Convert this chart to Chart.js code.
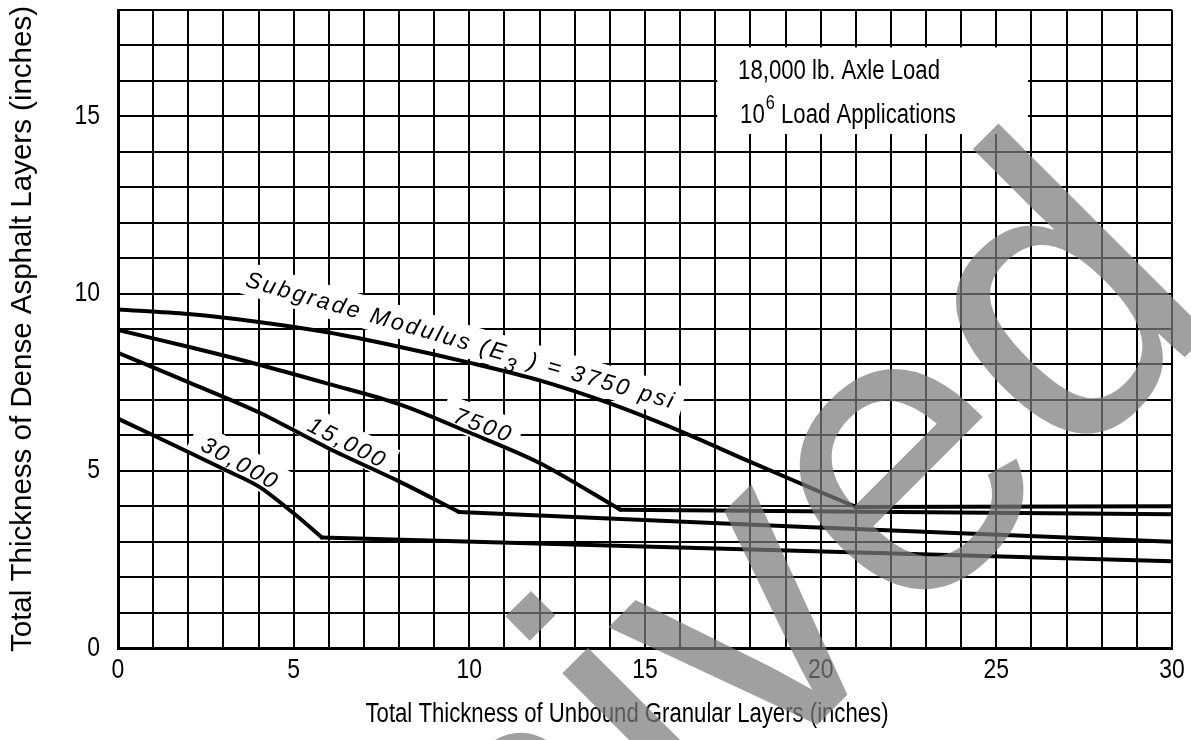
<!DOCTYPE html>
<html>
<head>
<meta charset="utf-8">
<script src="https://cdn.jsdelivr.net/npm/chart.js@4.4.1/dist/chart.umd.min.js"></script>
<style>
  html, body { margin: 0; padding: 0; background: #fff; }
  #wrap { width: 1191px; height: 740px; position: relative; }
</style>
</head>
<body>
<div id="wrap"><canvas id="c"></canvas></div>
<script>
// Granular base thickness (in.) and the dense asphalt thickness (in.) each subgrade needs
const base3750  = [0, 2, 4, 6, 8, 10, 12, 14, 16, 18, 20, 21, 30];
const asph3750  = [9.55, 9.42, 9.2, 8.9, 8.5, 8.05, 7.55, 6.9, 6.12, 5.25, 4.4, 3.98, 4.0];
const base7500  = [0, 2, 4, 6, 8, 10, 12, 14.3, 30];
const asph7500  = [8.97, 8.5, 8.0, 7.45, 6.88, 6.08, 5.22, 3.9, 3.77];
const base15000 = [0, 2, 4, 6, 8, 9.7, 19.4, 30];
const asph15000 = [8.33, 7.5, 6.65, 5.63, 4.7, 3.84, 3.42, 3.0];
const base30000 = [0, 2, 3, 4, 5, 5.8, 30];
const asph30000 = [6.47, 5.53, 5.05, 4.56, 3.8, 3.12, 2.45];

// base thickness where each curve breaks onto its minimum-asphalt line
const break3750 = 21, break7500 = 14.3, break15000 = 9.7, break30000 = 5.8;

const xTickLabels = [0, 5, 10, 15, 20, 25, 30];
const yTickLabels = [0, 5, 10, 15];

const xTitle = 'Total Thickness of Unbound Granular Layers (inches)';
const yTitle = 'Total Thickness of Dense Asphalt Layers (inches)';
const noteLine1 = '18,000 lb. Axle Load';
const noteLine2 = ['10', '6', ' Load Applications'];

// curve captions: text pieces [text, isSubscript], anchor in axis units, angle in degrees
const curveLabels = [
  { parts: [['Subgrade Modulus (E', 0], ['3', 1], [' ) = 3750 psi', 0]], at: [3.59, 10.21], angle: 16 },
  { parts: [['7500', 0]], at: [9.51, 6.38], angle: 20 },
  { parts: [['15,000', 0]], at: [5.35, 6.15], angle: 27 },
  { parts: [['30,000', 0]], at: [2.31, 5.61], angle: 29 }
];

function fontAvailable(name) {
  const ctx = document.createElement('canvas').getContext('2d');
  const s = 'mmmmmmmmmmlli0123456789WwAa';
  ctx.font = '40px monospace';
  const a = ctx.measureText(s).width;
  ctx.font = '40px "' + name + '", monospace';
  const b = ctx.measureText(s).width;
  return Math.abs(a - b) > 0.5;
}
const narrowName = ['Liberation Sans Narrow', 'Arial Narrow'].find(fontAvailable);
const HAS_NARROW = !!narrowName;
const NARROW = HAS_NARROW ? '"' + narrowName + '"' : '"Liberation Sans"';
const SQUEEZE = HAS_NARROW ? 1 : 0.82;
const tickSize = 28;

// condensed sans text: a true narrow face when present, otherwise a squeezed regular face
function fillNarrow(ctx, text, x, y, size, align) {
  ctx.save();
  ctx.font = size + 'px ' + NARROW;
  const w = ctx.measureText(text).width * SQUEEZE;
  const x0 = align === 'center' ? x - w / 2 : x;
  ctx.translate(x0, y);
  ctx.scale(SQUEEZE, 1);
  ctx.textAlign = 'left';
  ctx.fillText(text, 0, 0);
  ctx.restore();
  return w;
}

function toPoints(xs, ys, from, to) {
  const pts = [];
  xs.forEach((x, i) => { if (x >= from && x <= to) pts.push({ x: x, y: ys[i] }); });
  return pts;
}

function line(points, tension) {
  return {
    data: points,
    borderColor: '#000',
    borderWidth: 4,
    pointRadius: 0,
    tension: tension,
    borderJoinStyle: 'round',
    borderCapStyle: 'round',
    fill: false
  };
}

// each curve: the bending part, then the straight run past its break point
function curve(xs, ys, brk) {
  return [
    line(toPoints(xs, ys, -Infinity, brk), 0.3),
    line(toPoints(xs, ys, brk, Infinity), 0)
  ];
}

// tick numbers in a condensed face: squeeze each label about its own anchor
const condensedTicks = {
  id: 'condensedTicks',
  afterUpdate(chart) {
    if (HAS_NARROW) return;
    Object.values(chart.scales).forEach(s => {
      if (s._condensed) return;
      const drawLabels = s.drawLabels;
      s.drawLabels = function (area) {
        const ctx = this.ctx;
        const rotate = ctx.rotate;
        ctx.rotate = function (a) { rotate.call(this, a); this.scale(SQUEEZE, 1); };
        try { drawLabels.call(this, area); } finally { ctx.rotate = rotate; }
      };
      s._condensed = true;
    });
  }
};

// white-backed captions, the load note and the x title, drawn over the grid but under the curves
const captions = {
  id: 'captions',
  beforeDatasetsDraw(chart) {
    const ctx = chart.ctx;
    const xs = chart.scales.x, ys = chart.scales.y;
    const size = 23, spacing = 2.6;

    curveLabels.forEach(lab => {
      const px = xs.getPixelForValue(lab.at[0]);
      const py = ys.getPixelForValue(lab.at[1]);
      ctx.save();
      ctx.translate(px, py);
      ctx.rotate(lab.angle * Math.PI / 180);
      let total = 0;
      lab.parts.forEach(([t, sub]) => {
        ctx.font = 'italic ' + (sub ? 20 : size) + 'px "Liberation Sans"';
        for (const ch of t) total += ctx.measureText(ch).width + spacing;
      });
      total -= spacing;
      ctx.fillStyle = '#fff';
      ctx.fillRect(-12, -size * 0.72 - 8, total + 22, size * 0.72 + 16);
      ctx.fillStyle = '#000';
      ctx.textBaseline = 'alphabetic';
      let cx = 0;
      lab.parts.forEach(([t, sub]) => {
        ctx.font = 'italic ' + (sub ? 20 : size) + 'px "Liberation Sans"';
        for (const ch of t) {
          ctx.fillText(ch, cx, sub ? 9 : 0);
          cx += ctx.measureText(ch).width + spacing;
        }
      });
      ctx.restore();
    });

    // load note box
    const l = xs.getPixelForValue(17) + 2, r = xs.getPixelForValue(25.9);
    const t = ys.getPixelForValue(17) + 2, b = ys.getPixelForValue(14.5);
    ctx.save();
    ctx.fillStyle = '#fff';
    ctx.fillRect(l, t, r - l, b - t);
    ctx.fillStyle = '#000';
    ctx.textBaseline = 'alphabetic';
    const tx = xs.getPixelForValue(17.65);
    fillNarrow(ctx, noteLine1, tx, ys.getPixelForValue(16.05), 27);
    const by = ys.getPixelForValue(14.81);
    let cx = tx + 2;
    cx += fillNarrow(ctx, noteLine2[0], cx, by, 27);
    cx += fillNarrow(ctx, noteLine2[1], cx + 1, by - 14, 20) + 1;
    fillNarrow(ctx, noteLine2[2], cx, by, 27);

    // x axis title
    fillNarrow(ctx, xTitle, 627, 722, 27, 'center');
    ctx.restore();
  }
};

// archive stamp laid across the sheet
const stamp = {
  id: 'stamp',
  afterDraw(chart) {
    const ctx = chart.ctx;
    ctx.save();
    ctx.translate(1228, 314);
    ctx.rotate(-Math.PI / 4);
    ctx.font = '410px "Liberation Sans"';
    ctx.textAlign = 'right';
    ctx.textBaseline = 'alphabetic';
    ctx.fillStyle = 'rgba(124,124,124,0.72)';
    ctx.fillText('Archived', 0, 0);
    ctx.restore();
  }
};

new Chart(document.getElementById('c'), {
  type: 'line',
  data: {
    datasets: [
      ...curve(base3750, asph3750, break3750),
      ...curve(base7500, asph7500, break7500),
      ...curve(base15000, asph15000, break15000),
      ...curve(base30000, asph30000, break30000)
    ]
  },
  options: {
    responsive: true,
    maintainAspectRatio: false,
    animation: false,
    events: [],
    layout: { padding: { top: 10, right: 19, bottom: 0, left: 0 } },
    plugins: { legend: { display: false }, tooltip: { enabled: false } },
    scales: {
      x: {
        type: 'linear', min: 0, max: 30,
        afterFit(s) { s.height = 92; s.paddingLeft = 0; s.paddingRight = 0; },
        ticks: {
          stepSize: 1, autoSkip: false, maxRotation: 0, minRotation: 0, padding: 8,
          color: '#000',
          font: { family: NARROW, size: tickSize, lineHeight: 1 },
          callback: v => xTickLabels.includes(v) ? String(v) : ''
        },
        grid: { color: '#000', lineWidth: 2, drawTicks: false },
        border: { display: true, color: '#000', width: 3 },
        title: { display: false }
      },
      y: {
        type: 'linear', min: 0, max: 18,
        afterFit(s) { s.width = 118; s.paddingTop = 0; s.paddingBottom = 0; },
        ticks: {
          stepSize: 1, autoSkip: false, padding: 18,
          color: '#000',
          font: { family: NARROW, size: tickSize, lineHeight: 1 },
          callback: v => yTickLabels.includes(v) ? String(v) : ''
        },
        grid: { color: '#000', lineWidth: 2, drawTicks: false },
        border: { display: true, color: '#000', width: 3 },
        title: {
          display: true, text: yTitle, color: '#000',
          font: { family: '"Liberation Sans"', size: 29.5, lineHeight: 1.2 },
          padding: { top: 5.3, bottom: 0 }
        }
      }
    }
  },
  plugins: [condensedTicks, captions, stamp]
});
</script>
</body>
</html>
